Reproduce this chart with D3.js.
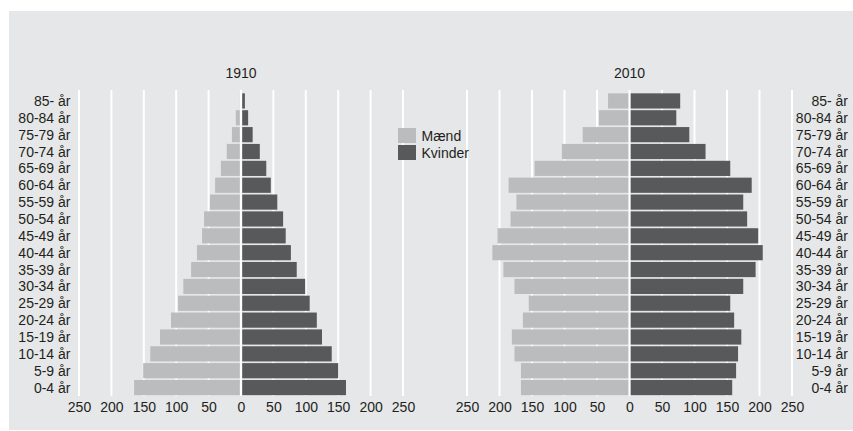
<!DOCTYPE html>
<html><head><meta charset="utf-8">
<script src="https://cdn.jsdelivr.net/npm/d3@7"></script>
<style>
html,body{margin:0;padding:0;background:#fff;}
svg{display:block;font-family:"Liberation Sans",Arial,Helvetica,sans-serif;}
</style></head>
<body>
<svg id="chart" width="853" height="431"></svg>
<script>
const ageGroups = ["85- år","80-84 år","75-79 år","70-74 år","65-69 år","60-64 år","55-59 år","50-54 år","45-49 år","40-44 år","35-39 år","30-34 år","25-29 år","20-24 år","15-19 år","10-14 år","5-9 år","0-4 år"];
const men1910   = [2, 8, 14, 22, 31, 40, 48, 57, 60, 68, 77, 89, 97, 108, 125, 140, 151, 165];
const women1910 = [6, 11, 18, 29, 39, 46, 56, 65, 69, 77, 86, 99, 106, 117, 125, 140, 150, 162];
const men2010   = [33, 47, 72, 104, 146, 186, 174, 183, 203, 211, 194, 177, 155, 164, 181, 177, 167, 167];
const women2010 = [78, 72, 92, 117, 155, 188, 175, 181, 198, 205, 194, 175, 155, 161, 172, 167, 164, 158];
const tickValues = [-250,-200,-150,-100,-50,0,50,100,150,200,250];
const years = ["1910","2010"];
const seriesNames = ["Mænd","Kvinder"];

const colMen = "#bbbcbe", colWomen = "#58595b", bg = "#e6e7e8", txt = "#231f20";
const svg = d3.select("#chart");
svg.append("rect").attr("x",9).attr("y",11).attr("width",844).attr("height",419).attr("fill",bg);

const y = d3.scaleBand().domain(ageGroups).range([92.5,396]).paddingInner(0.1).paddingOuter(0.05);

const panels = [
  {year:years[0], men:men1910, women:women1910, range:[79,403], labelSide:"left"},
  {year:years[1], men:men2010, women:women2010, range:[467,792], labelSide:"right"}
];

panels.forEach(p => {
  const x = d3.scaleLinear().domain([-250,250]).range(p.range);
  const g = svg.append("g");
  // grid
  g.selectAll("line.grid").data(tickValues).join("line")
    .attr("x1",d=>x(d)).attr("x2",d=>x(d)).attr("y1",90).attr("y2",396)
    .attr("stroke","#fff").attr("stroke-width",2);
  // bars
  g.selectAll("rect.m").data(ageGroups).join("rect")
    .attr("x",(d,i)=>x(-p.men[i])).attr("y",d=>y(d))
    .attr("width",(d,i)=>Math.max(0,x(0)-1.2-x(-p.men[i]))).attr("height",y.bandwidth())
    .attr("fill",colMen);
  g.selectAll("rect.w").data(ageGroups).join("rect")
    .attr("x",x(0)+1.2).attr("y",d=>y(d))
    .attr("width",(d,i)=>Math.max(0,x(p.women[i])-x(0)-1.2)).attr("height",y.bandwidth())
    .attr("fill",colWomen);
  // bottom axis
  const ax = g.append("g").attr("transform","translate(0,399)")
    .call(d3.axisBottom(x).tickValues(tickValues).tickFormat(d=>Math.abs(d)).tickSize(0).tickPadding(3));
  ax.select(".domain").remove();
  ax.selectAll("text").attr("font-size",14).attr("fill",txt).style("font-family","inherit");
  // year title
  g.append("text").attr("x",x(0)).attr("y",77.5).attr("text-anchor","middle")
    .attr("font-size",14).attr("fill",txt).text(p.year);
  // age labels
  const lx = p.labelSide==="left" ? 70.5 : 848;
  g.selectAll("text.age").data(ageGroups).join("text")
    .attr("x",lx).attr("y",d=>y(d)+y.bandwidth()/2).attr("dy","0.36em")
    .attr("text-anchor","end").attr("font-size",14).attr("fill",txt).text(d=>d);
});

// legend
const leg = svg.append("g");
[colMen,colWomen].forEach((c,i)=>{
  leg.append("rect").attr("x",398).attr("y",128+i*17).attr("width",18).attr("height",15).attr("fill",c);
  leg.append("text").attr("x",421.5).attr("y",140.5+i*17).attr("font-size",14).attr("fill",txt).text(seriesNames[i]);
});
</script>
</body></html>
